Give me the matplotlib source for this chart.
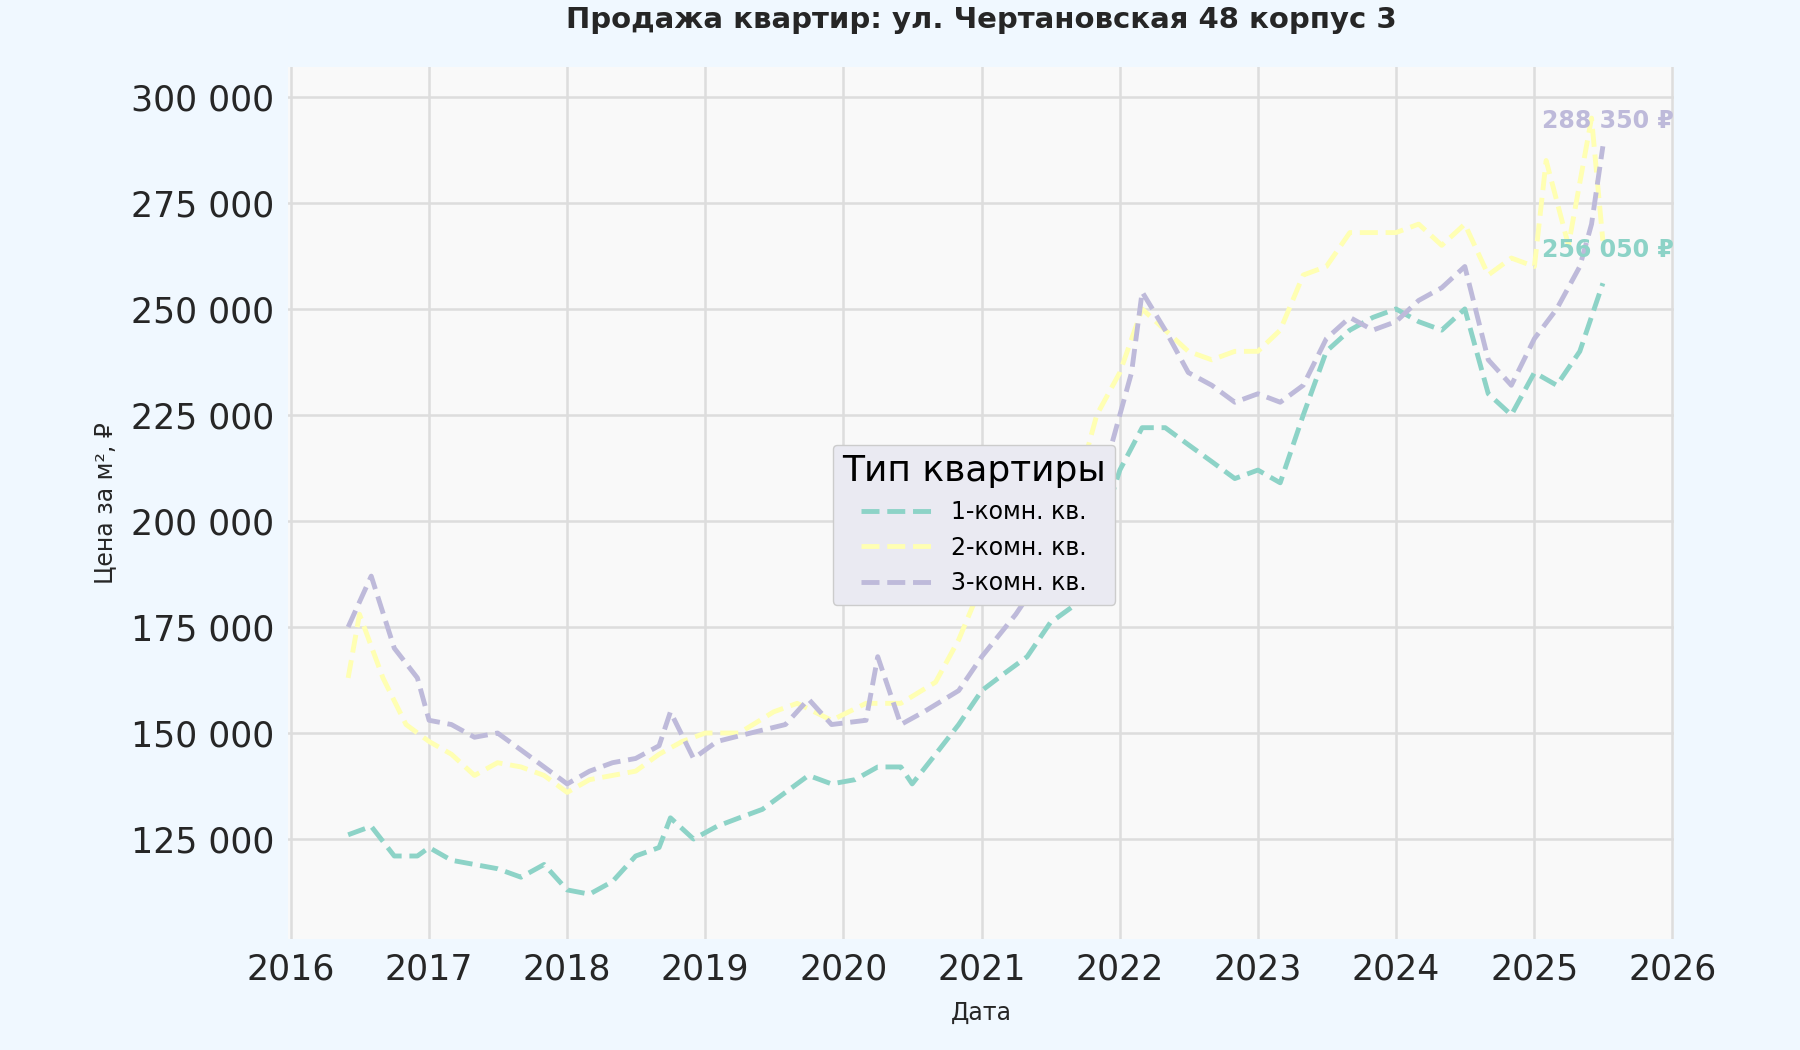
import matplotlib
matplotlib.use("Agg")
import matplotlib.pyplot as plt
import matplotlib.dates as mdates
import pandas as pd

dates1 = ["2016-06","2016-08","2016-10","2016-12","2017-01","2017-03","2017-05","2017-07","2017-09","2017-11","2018-01","2018-03","2018-05","2018-07","2018-09","2018-10","2018-12","2019-02","2019-04","2019-06","2019-08","2019-10","2019-12","2020-02","2020-04","2020-06","2020-07","2020-09","2020-11","2021-01","2021-03","2021-05","2021-07","2021-09","2021-11","2022-01","2022-03","2022-05","2022-07","2022-09","2022-11","2023-01","2023-03","2023-05","2023-07","2023-09","2023-11","2024-01","2024-03","2024-05","2024-07","2024-09","2024-11","2025-01","2025-03","2025-05","2025-07"]
room1 = [126000,128000,121000,121000,123000,120000,119000,118000,116000,119000,113000,112000,115000,121000,123000,130000,125000,128000,130000,132000,136000,140000,138000,139000,142000,142000,138000,145000,152000,160000,164000,168000,176000,180000,195000,212000,222000,222000,218000,214000,210000,212000,209000,225000,240000,245000,248000,250000,247000,245000,250000,230000,225000,235000,232000,240000,256050]

dates2 = ["2016-06","2016-07","2016-09","2016-11","2017-01","2017-03","2017-05","2017-07","2017-09","2017-11","2018-01","2018-03","2018-05","2018-07","2018-09","2018-11","2019-01","2019-04","2019-07","2019-09","2019-12","2020-03","2020-06","2020-09","2020-11","2021-01","2021-04","2021-07","2021-09","2021-11","2022-01","2022-03","2022-05","2022-07","2022-09","2022-11","2023-01","2023-03","2023-05","2023-07","2023-09","2023-11","2024-01","2024-03","2024-05","2024-07","2024-09","2024-11","2025-01","2025-02","2025-04","2025-06","2025-07"]
room2 = [163000,178000,163000,152000,148000,145000,140000,143000,142000,140000,136000,139000,140000,141000,145000,148000,150000,150000,155000,157000,153000,157000,157000,162000,172000,185000,190000,195000,205000,225000,235000,250000,245000,240000,238000,240000,240000,245000,258000,260000,268000,268000,268000,270000,265000,270000,258000,262000,260000,285000,265000,295000,266000]

dates3 = ["2016-06","2016-08","2016-10","2016-12","2017-01","2017-03","2017-05","2017-07","2017-09","2017-11","2018-01","2018-03","2018-05","2018-07","2018-09","2018-10","2018-12","2019-02","2019-05","2019-08","2019-10","2019-12","2020-03","2020-04","2020-06","2020-08","2020-11","2021-01","2021-04","2021-07","2021-10","2021-12","2022-02","2022-03","2022-05","2022-07","2022-09","2022-11","2023-01","2023-03","2023-05","2023-07","2023-09","2023-11","2024-01","2024-03","2024-05","2024-07","2024-09","2024-11","2025-01","2025-03","2025-05","2025-06","2025-07"]
room3 = [175000,187000,170000,163000,153000,152000,149000,150000,146000,142000,138000,141000,143000,144000,147000,155000,144000,148000,150000,152000,158000,152000,153000,168000,152000,155000,160000,168000,178000,190000,200000,215000,235000,254000,245000,235000,232000,228000,230000,228000,232000,243000,248000,245000,247000,252000,255000,260000,238000,232000,243000,250000,260000,270000,288350]

labels = ["1-комн. кв.", "2-комн. кв.", "3-комн. кв."]
colors = ["#8dd3c7", "#ffffb3", "#bebada"]

fig = plt.figure(figsize=(18, 10.5), dpi=100, facecolor="#f0f8ff")
ax = fig.add_axes([0.16, 0.106, 0.77, 0.83], facecolor="#f9f9f9")
series = [(dates1, room1), (dates2, room2), (dates3, room3)]
for (d, v), lab, c in zip(series, labels, colors):
    ax.plot(pd.to_datetime(d), v, ls="--", lw=3.5, color=c, label=lab)

ax.set_xlim(pd.Timestamp("2015-12-25"), pd.Timestamp("2026-01-05"))
ax.set_ylim(101500, 307000)
ax.set_yticks([125000,150000,175000,200000,225000,250000,275000,300000])
ax.yaxis.set_major_formatter(matplotlib.ticker.FuncFormatter(lambda v, p: f"{int(v):,}".replace(",", " ")))
ax.xaxis.set_major_locator(mdates.YearLocator())
ax.xaxis.set_major_formatter(mdates.DateFormatter("%Y"))
ax.grid(True, color="#dddddd", lw=1.8)
for s in ax.spines.values():
    s.set_visible(False)
ax.tick_params(axis="both", labelsize=25, colors="#262626", length=0, pad=10)
ax.set_xlabel("Дата", fontsize=17, color="#262626", labelpad=10)
ax.set_ylabel("Цена за м², ₽", fontsize=17, color="#262626", labelpad=10)
ax.set_title("Продажа квартир: ул. Чертановская 48 корпус 3", fontsize=21, fontweight="bold", color="#262626", pad=28)

ax.annotate(f"{room3[-1]:,} ₽".replace(",", " "), xy=(1.0, room3[-1]), xycoords=("axes fraction", "data"),
            xytext=(0, 18), textcoords="offset points", ha="right", va="center", fontsize=17, fontweight="bold", color=colors[2])
ax.annotate(f"{room1[-1]:,} ₽".replace(",", " "), xy=(1.0, room1[-1]), xycoords=("axes fraction", "data"),
            xytext=(0, 24), textcoords="offset points", ha="right", va="center", fontsize=17, fontweight="bold", color=colors[0])

leg = ax.legend(title="Тип квартиры", loc="center", bbox_to_anchor=(0.495, 0.475), fontsize=17, title_fontsize=26,
                facecolor="#eaeaf2", edgecolor="#cccccc", framealpha=1, handlelength=3)
fig.savefig("out.png", dpi=100, facecolor=fig.get_facecolor())
